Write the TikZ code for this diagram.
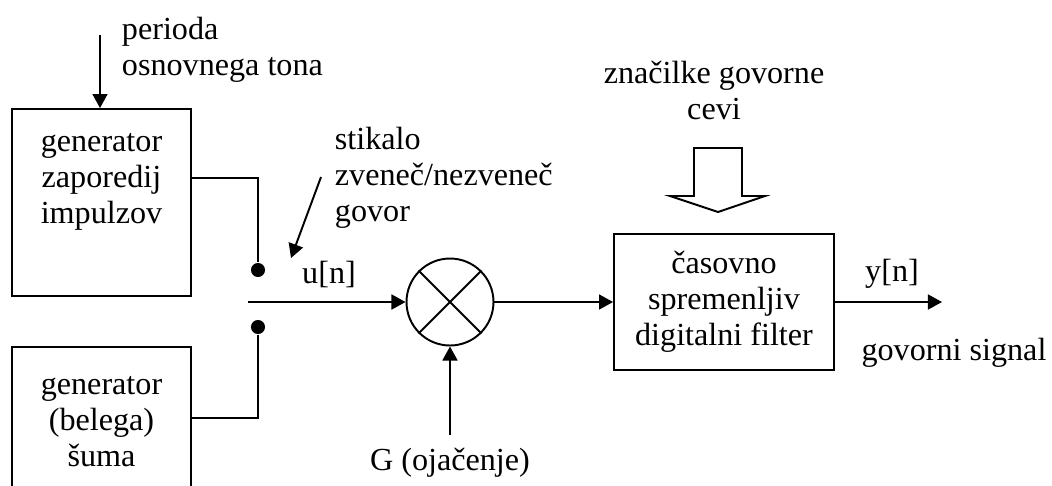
\documentclass[tikz,border=0pt]{standalone}
\usepackage{fontspec}
\setmainfont{Liberation Serif}
\usetikzlibrary{arrows.meta,positioning,calc}

\begin{document}
\begin{tikzpicture}[x=0.02cm, y=-0.02cm, line width=1.1pt,
    font=\fontsize{18.3}{20.5}\selectfont,
    blok/.style={draw, rectangle, align=center, inner sep=0pt},
    genblok/.style={draw, rectangle, minimum width=3.58cm, minimum height=3.74cm},
    pika/.style={circle, fill, inner sep=0pt, minimum size=8pt},
    oznaka/.style={inner sep=0pt},
    puscica/.style={-{Triangle[length=8pt,width=8.5pt]}}]
    \clip (0,0) rectangle (1052,485);

    % Generators
    \node[genblok, label={[align=center, yshift=0.42cm]center:generator\\zaporedij\\impulzov}] (pulzi) at (101.5,202.5) {};
    \node[genblok, label={[align=center, yshift=0.38cm]center:generator\\(belega)\\šuma}] (sum) at (101.5,440.5) {};
    \coordinate (perioda) at (100,35);
    \draw[puscica] (perioda) -- (perioda |- pulzi.north);
    \node[oznaka, anchor=west, align=left] (perlab) at (121,50) {perioda\\osnovnega tona};

    % Switch
    \node[pika] (kontA) at (258,270) {};
    \node[pika] (kontB) at (258,327) {};
    \draw ([yshift=0.49cm]pulzi.east) -| (kontA);
    \draw ([yshift=0.45cm]sum.east) -| (kontB);
    \node[oznaka, anchor=west, align=left] (stiklab) at (334,178) {stikalo\\zveneč/nezveneč\\govor};
    \coordinate (stikA) at (321,177);
    \coordinate (stikB) at (291,258);
    \draw[puscica] (stikA) -- (stikB);

    % Gain
    \node[draw, circle, minimum size=1.74cm, inner sep=0pt] (mnoz) at (450,302) {};
    \draw (mnoz.north west) -- (mnoz.south east);
    \draw (mnoz.north east) -- (mnoz.south west);
    \coordinate (vhod) at (248,302);
    \draw[puscica] (vhod) -- (mnoz.west);
    \node[oznaka] (unlab) at (329,274) {u[n]};
    \node[oznaka] (glab) at (450,463) {G (ojačenje)};
    \draw[puscica] (glab.north |- 0,435) -- (mnoz.south);

    % Vocal tract filter
    \node[blok, minimum width=4.4cm, minimum height=2.72cm] (filter) at (724,302) {časovno\\spremenljiv\\digitalni filter};
    \draw[puscica] (mnoz.east) -- (filter.west);
    \node[oznaka, align=center] (cevlab) at (714,90) {značilke govorne\\cevi};
    \draw (694,148) -- (742,148) -- (742,196) -- (765,196) -- (718,212) -- (670,196) -- (694,196) -- cycle;

    % Output
    \coordinate (izhod) at (942,302);
    \draw[puscica] (filter.east) -- (izhod);
    \node[oznaka] (ynlab) at (892,274) {y[n]};
    \node[oznaka] (govlab) at (954,353) {govorni signal};
\end{tikzpicture}
\end{document}
